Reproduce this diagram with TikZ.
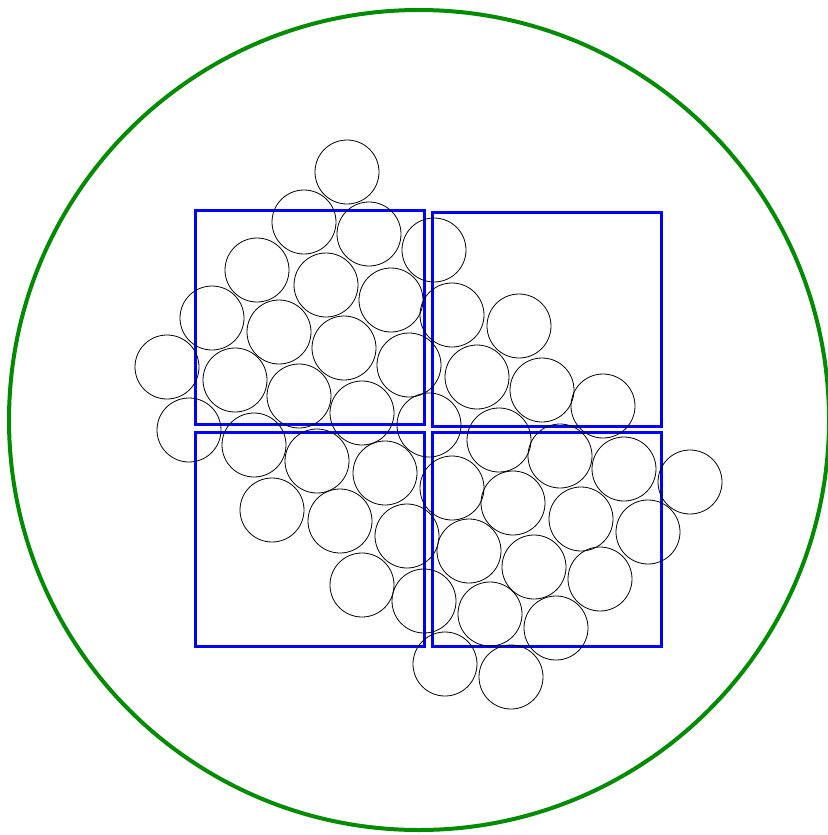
\documentclass[tikz,border=0pt]{standalone}
\begin{document}
\begin{tikzpicture}[x=1pt,y=-1pt,
  ball/.style={draw=black,line width=0.8pt},
  cell/.style={draw=blue,line width=3pt},
  outer/.style={draw=green!55!black,line width=4pt}]
\useasboundingbox (0,0) rectangle (827,835);
\draw[outer] (419,420) circle (410);
\draw[cell] (195,210) rectangle (424,424);
\draw[cell] (432,212) rectangle (661,426);
\draw[cell] (195,432) rectangle (424,646);
\draw[cell] (432,432) rectangle (661,646);
\foreach \x/\y in {347/172,304/222,369/234,434/250,257/270,326/285,391/300,452/315,519/326,
 212/318,279/332,344/348,409/365,477/377,542/390,603/406,
 167/367,235/380,299/396,362/413,429/425,499/440,560/456,624/469,690/482,
 189/430,254/445,317/461,385/473,452/488,513/503,581/519,648/532,
 272/510,340/521,407/536,469/551,534/567,600/579,
 362/585,424/601,490/614,556/628,445/664,511/677}
  \draw[ball] (\x,\y) circle (32);
\end{tikzpicture}
\end{document}
